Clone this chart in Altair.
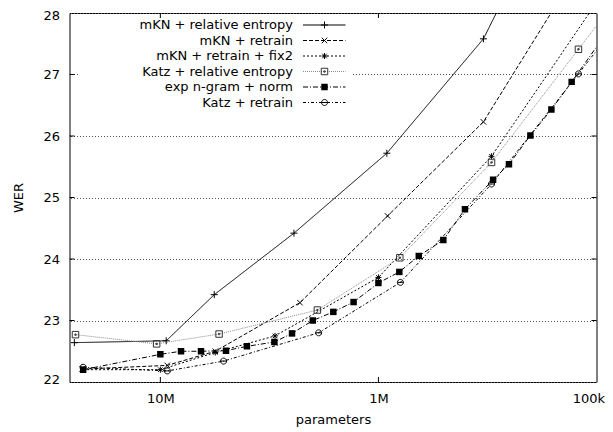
import altair as alt
import pandas as pd

FONT = "DejaVu Sans"
FS = 13

names = ["mKN + relative entropy", "mKN + retrain", "mKN + retrain + fix2",
         "Katz + relative entropy", "exp n-gram + norm", "Katz + retrain"]

mkn_re_x = [24.8e6, 9.4e6, 5.66e6, 2.44e6, 915e3, 330e3, 120e3]
mkn_re_y = [22.64, 22.67, 23.42, 24.42, 25.72, 27.58, 30.7]
mkn_rt_x = [22.8e6, 9.3e6, 5.6e6, 2.29e6, 908e3, 330e3, 120e3]
mkn_rt_y = [22.21, 22.27, 22.50, 23.29, 24.70, 26.23, 28.74]
fix2_x = [22.6e6, 10.0e6, 5.6e6, 2.98e6, 1.0e6, 303e3, 74e3]
fix2_y = [22.20, 22.20, 22.48, 22.75, 23.70, 25.67, 28.85]
katz_re_x = [24.5e6, 10.4e6, 5.38e6, 1.905e6, 798e3, 303e3, 121e3, 85e3]
katz_re_y = [22.77, 22.62, 22.78, 23.17, 24.02, 25.57, 27.41, 28.12]
exp_x = [22.6e6, 10.0e6, 8.04e6, 6.51e6, 5.0e6, 4.01e6, 3.0e6, 2.49e6, 2.0e6,
         1.61e6, 1.30e6, 1.0e6, 802e3, 653e3, 504e3, 401e3, 298e3, 252e3,
         201e3, 161e3, 130e3, 85e3]
exp_y = [22.20, 22.45, 22.50, 22.50, 22.51, 22.58, 22.65, 22.79, 23.00,
         23.14, 23.30, 23.61, 23.79, 24.05, 24.31, 24.81, 25.29, 25.54,
         26.01, 26.43, 26.88, 27.80]
katz_rt_x = [22.6e6, 9.29e6, 5.13e6, 1.88e6, 793e3, 303e3, 121e3, 85e3]
katz_rt_y = [22.24, 22.18, 22.34, 22.80, 23.62, 25.22, 27.01, 27.71]

xs = [mkn_re_x, mkn_rt_x, fix2_x, katz_re_x, exp_x, katz_rt_x]
ys = [mkn_re_y, mkn_rt_y, fix2_y, katz_re_y, exp_y, katz_rt_y]

x_ticks = [1e5, 1e6, 1e7]
y_ticks = [22, 23, 24, 25, 26, 27, 28]

W, H = 527, 369

SHAPE_PLUS = "M-1,0L1,0M0,-1L0,1"
SHAPE_X = "M-1,-1L1,1M-1,1L1,-1"
SHAPE_STAR = "M-1,0L1,0M0,-1L0,1M-0.75,-0.75L0.75,0.75M-0.75,0.75L0.75,-0.75"
SHAPE_BOX = "M-1,-1L1,-1L1,1L-1,1ZM-0.2,-0.2L0.2,-0.2L0.2,0.2L-0.2,0.2Z"
SHAPE_CIRC = "M-1,0A1,1,0,1,1,1,0A1,1,0,1,1,-1,0ZM-1,0L1,0"

styles = [
    dict(dash=[1, 0], color="#000", shape=SHAPE_PLUS, filled=False, size=49),
    dict(dash=[4, 2], color="#000", shape=SHAPE_X, filled=False, size=30),
    dict(dash=[2, 2], color="#000", shape=SHAPE_STAR, filled=False, size=36),
    dict(dash=[1, 1], color="#8a8a8a", shape=SHAPE_BOX, filled=False, size=42, mcolor="#333"),
    dict(dash=[5, 2, 1, 2], color="#000", shape="square", filled=True, size=42),
    dict(dash=[3, 2, 1, 2], color="#000", shape=SHAPE_CIRC, filled=False, size=36),
]

xscale = alt.Scale(type="log", domain=[1e5, 2.61e7], reverse=True, nice=False)
yscale = alt.Scale(domain=[22, 28], nice=False, zero=False)

xaxis = alt.Axis(values=x_ticks,
                 labelExpr="datum.value > 5e6 ? '10M' : (datum.value > 5e5 ? '1M' : '100k')",
                 ticks=False, tickSize=0, grid=False, domain=False,
                 labelFont=FONT, labelFontSize=FS, labelColor="#000",
                 labelPadding=10, labelFlush=True, labelFlushOffset=8,
                 labelOverlap=False, labelBound=False,
                 title="parameters", titleFont=FONT, titleFontSize=FS,
                 titleFontWeight="normal", titleColor="#000",
                 titleY=37, titleBaseline="middle")
yaxis = alt.Axis(values=y_ticks, format="d",
                 ticks=False, tickSize=0, grid=True, gridDash=[1, 2],
                 gridColor="#555", gridWidth=1, domain=False,
                 labelFont=FONT, labelFontSize=FS, labelColor="#000",
                 labelPadding=10, labelFlush=True, labelFlushOffset=4,
                 title="WER", titleFont=FONT, titleFontSize=FS,
                 titleFontWeight="normal", titleColor="#000",
                 titleX=-51, titleBaseline="middle", titleAngle=270)


def X(f):
    return alt.X(f, type="quantitative", scale=xscale, axis=xaxis)


def Y(f):
    return alt.Y(f, type="quantitative", scale=yscale, axis=yaxis)


layers = []

# legend background box
layers.append(
    alt.Chart(pd.DataFrame({"a": [0]})).mark_rect(fill="white", stroke=None).encode(
        x=alt.value(10), x2=alt.value(283), y=alt.value(3), y2=alt.value(97))
)

for i, name in enumerate(names):
    st = styles[i]
    df = pd.DataFrame({"x": xs[i], "y": ys[i]})
    base = alt.Chart(df)
    layers.append(base.mark_line(color=st["color"], strokeWidth=1,
                                 strokeDash=st["dash"], clip=True)
                  .encode(x=X("x"), y=Y("y")))
    mc = st.get("mcolor", "#000")
    if st["filled"]:
        pt = base.mark_point(shape=st["shape"], filled=True, fill=mc, stroke=None,
                             size=st["size"], opacity=1, clip=True)
    else:
        pt = base.mark_point(shape=st["shape"], filled=False, stroke=mc,
                             strokeWidth=1, size=st["size"], opacity=1, clip=True)
    layers.append(pt.encode(x=X("x"), y=Y("y")))

    # legend entry
    ly = 12 + i * 15.5
    ldf = pd.DataFrame({"label": [name]})
    lb = alt.Chart(ldf)
    layers.append(lb.mark_text(align="right", baseline="middle", font=FONT,
                               fontSize=FS, color="#000")
                  .encode(x=alt.value(223.5), y=alt.value(ly), text="label:N"))
    layers.append(lb.mark_rule(color=st["color"], strokeWidth=1, strokeDash=st["dash"])
                  .encode(x=alt.value(233.5), x2=alt.value(276), y=alt.value(ly)))
    if st["filled"]:
        lp = lb.mark_point(shape=st["shape"], filled=True, fill=mc, stroke=None,
                           size=st["size"], opacity=1)
    else:
        lp = lb.mark_point(shape=st["shape"], filled=False, stroke=mc,
                           strokeWidth=1, size=st["size"], opacity=1)
    layers.append(lp.encode(x=alt.value(255), y=alt.value(ly)))

# inward tick marks
xt = alt.Chart(pd.DataFrame({"t": [1e6, 1e7]}))
layers.append(xt.mark_rule(color="#000", strokeWidth=1).encode(
    x=X("t"), y=alt.value(H), y2=alt.value(H - 5)))
layers.append(xt.mark_rule(color="#000", strokeWidth=1).encode(
    x=X("t"), y=alt.value(0), y2=alt.value(5)))
yt = alt.Chart(pd.DataFrame({"v": [23, 24, 25, 26, 27]}))
layers.append(yt.mark_rule(color="#000", strokeWidth=1).encode(
    y=Y("v"), x=alt.value(0), x2=alt.value(5)))
layers.append(yt.mark_rule(color="#000", strokeWidth=1).encode(
    y=Y("v"), x=alt.value(W), x2=alt.value(W - 5)))

chart = alt.layer(*layers).properties(
    width=W, height=H,
    autosize=alt.AutoSizeParams(type="none"),
    padding={"left": 61.5, "top": 5, "right": 8, "bottom": 45},
    background="white",
).configure_view(stroke="#000", strokeWidth=1)

chart.save("out.html", embed_options={"renderer": "svg", "actions": False})
